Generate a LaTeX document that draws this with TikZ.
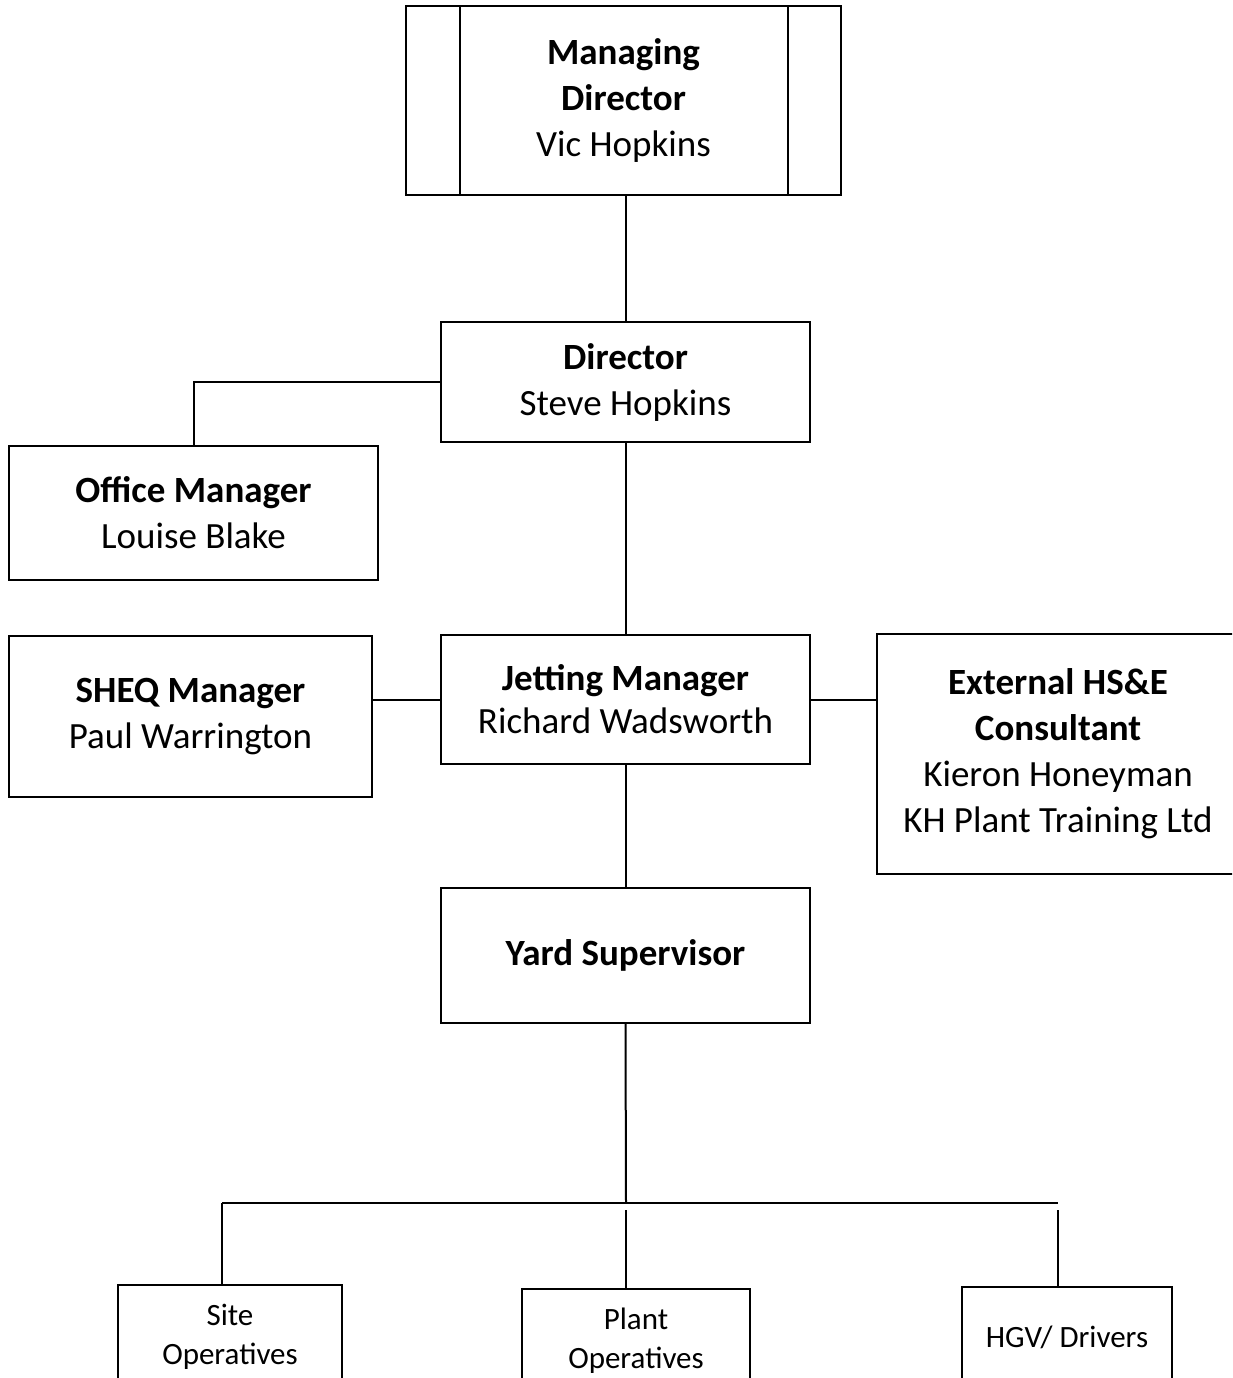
\documentclass[tikz,border=0pt]{standalone}
\usepackage{fontspec}
\setmainfont{Carlito}
\usepackage{tikz}
\tikzstyle{post} = [rectangle, draw=black, line width=1.6pt, align=center, inner sep=0pt,
font=\fontsize{37}{46}\selectfont]
\tikzstyle{crew} = [post, font=\fontsize{31}{39}\selectfont]
\tikzstyle{wire} = [line width=2pt]

\begin{document}
\begin{tikzpicture}[x=1pt, y=-1pt]
        \useasboundingbox (0,0) rectangle (1232,1378);
        \clip (0,0) rectangle (1232,1378);

        \draw (623.5,100.5) node[post, minimum width=435, minimum height=189] (md)
        {\textbf{Managing}\\\textbf{Director}\\Vic Hopkins};
        \draw[wire] ([xshift=55pt]md.north west) -- ([xshift=55pt]md.south west);
        \draw[wire] ([xshift=-54pt]md.north east) -- ([xshift=-54pt]md.south east);

        \draw (625.5,382) node[post, minimum width=369, minimum height=120] (dir)
        {\textbf{Director}\\Steve Hopkins};
        \draw (193.5,513) node[post, minimum width=369, minimum height=134] (office)
        {\textbf{Office Manager}\\Louise Blake};

        \draw (625.5,699.5) node[post, minimum width=369, minimum height=129,
        font=\fontsize{37}{43}\selectfont] (jet) {\textbf{Jetting Manager}\\Richard Wadsworth};
        \draw (190.5,716.5) node[post, minimum width=363, minimum height=161] (sheq)
        {\textbf{SHEQ Manager}\\Paul Warrington};
        \draw (1058,754) node[post, minimum width=362, minimum height=240] (ext)
        {\textbf{External HS\&E}\\\textbf{Consultant}\\Kieron Honeyman\\KH Plant Training Ltd};

        \draw (625.5,955.5) node[post, minimum width=369, minimum height=135] (yard)
        {\textbf{Yard Supervisor}};

        \draw (230,1337) node[crew, minimum width=224, minimum height=104] (site) {Site\\Operatives};
        \draw (636,1341) node[crew, minimum width=228, minimum height=104] (plant) {Plant\\Operatives};
        \draw (1067,1337) node[crew, minimum width=210, minimum height=100] (hgv) {HGV/ Drivers};

        \draw[wire] (dir.north |- md.south) -- (dir.north);
        \draw[wire] (dir.west) -| (office.north);
        \draw[wire] (dir.south) -- (jet.north);
        \draw[wire] (jet.west) -- (jet.west -| sheq.east);
        \draw[wire] (jet.east) -- (jet.east -| ext.west);
        \draw[wire] (jet.south) -- (yard.north);

        \coordinate (bus) at (626,1203);
        \coordinate (busL) at (222,1203);
        \coordinate (busR) at (1058,1203);
        \coordinate (dropP) at (626,1210);
        \coordinate (dropH) at (1058,1210);
        \draw[wire] (yard.south) -- (bus);
        \draw[wire, line width=2.6pt] (busL) -- (busR);
        \draw[wire] (busL) -- (busL |- site.north);
        \draw[wire] (dropP) -- (dropP |- plant.north);
        \draw[wire] (dropH) -- (dropH |- hgv.north);
    \end{tikzpicture}
\end{document}
